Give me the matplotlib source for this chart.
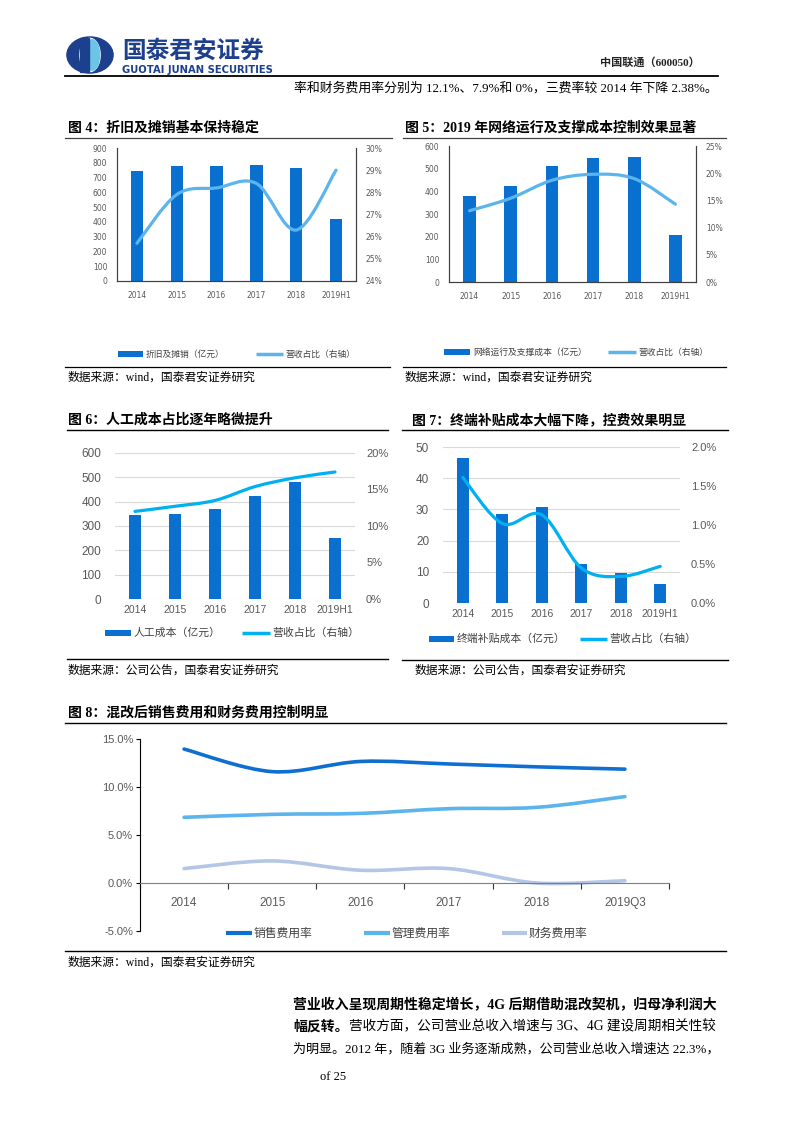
import numpy as np
import matplotlib
matplotlib.use('Agg')
import matplotlib.pyplot as plt
from matplotlib.path import Path
from matplotlib.patches import PathPatch, Rectangle, Ellipse
from matplotlib.lines import Line2D
import matplotlib.ticker as mtick

plt.rcParams['font.family'] = ['Liberation Serif', 'Noto Sans CJK SC']

# ---- data ----
years = ['2014', '2015', '2016', '2017', '2018', '2019H1']
years8 = ['2014', '2015', '2016', '2017', '2018', '2019Q3']

# 图4 折旧及摊销
da_amount = [745, 775, 778, 782, 765, 422]
da_ratio = [25.7, 27.9, 28.2, 28.4, 26.3, 29.0]

# 图5 网络运行及支撑成本
net_amount = [378, 422, 510, 545, 550, 207]
net_ratio = [13.1, 15.4, 18.7, 19.8, 19.0, 14.3]

# 图6 人工成本
labor_amount = [345, 350, 368, 425, 480, 250]
labor_ratio = [12.0, 12.7, 13.5, 15.4, 16.6, 17.4]

# 图7 终端补贴成本
subsidy_amount = [46.5, 28.5, 30.7, 12.5, 9.5, 6.0]
subsidy_ratio = [1.61, 1.02, 1.13, 0.45, 0.34, 0.47]

# 图8 三费率
sales_rate = [13.95, 11.6, 12.66, 12.4, 12.1, 11.86]
admin_rate = [6.84, 7.15, 7.25, 7.74, 7.88, 9.0]
fin_rate = [1.5, 2.3, 1.33, 1.5, 0.0, 0.24]

BAR = '#0a70d0'
LINE_A = '#5bb5ec'
LINE_B = '#00b0f0'
TICK = '#595959'
CJK = ['Noto Sans CJK SC']

W, H = 793, 1122
fig = plt.figure(figsize=(W / 100, H / 100), dpi=100)


def rect(x0, y0, x1, y1):
    return [x0 / W, 1 - y1 / H, (x1 - x0) / W, (y1 - y0) / H]


def ftext(x, y, s, **kw):
    kw.setdefault('va', 'center')
    fig.text(x / W, 1 - y / H, s, **kw)


def hline(x0, x1, y, lw=1.0, color='black'):
    fig.add_artist(Line2D([x0 / W, x1 / W], [1 - y / H] * 2, lw=lw, color=color))


def smooth(ax, x, y, color, lw):
    # excel style smoothed line (bezier through the points)
    p = np.column_stack([x, y]).astype(float)
    n = len(p)
    verts = [p[0]]
    codes = [Path.MOVETO]
    for i in range(n - 1):
        p0, p1 = p[max(i - 1, 0)], p[i]
        p2, p3 = p[i + 1], p[min(i + 2, n - 1)]
        verts += [p1 + (p2 - p0) / 6, p2 - (p3 - p1) / 6, p2]
        codes += [Path.CURVE4] * 3
    ax.add_patch(PathPatch(Path(verts, codes), fill=False, ec=color, lw=lw,
                           capstyle='round', joinstyle='round'))


def legend_bar(x0, x1, y, label, size, color=BAR):
    fig.add_artist(Rectangle((x0 / W, 1 - (y + 3) / H), (x1 - x0) / W, 6 / H,
                             transform=fig.transFigure, color=color, lw=0))
    ftext(x1 + 3, y, label, fontsize=size, family=CJK, color='#404040')


def legend_line(x0, x1, y, label, size, color, lw=2.5):
    fig.add_artist(Line2D([x0 / W, x1 / W], [1 - y / H] * 2, lw=lw, color=color,
                          solid_capstyle='butt'))
    ftext(x1 + 2, y, label, fontsize=size, family=CJK, color='#404040')


# ---- header ----
lax = fig.add_axes(rect(66, 36, 114, 74))
lax.set_xlim(-1.3, 1.3)
lax.set_ylim(-1, 1)
lax.axis('off')
lax.add_patch(Ellipse((0, 0), 2.5, 1.9, color='#1c3f8e'))
lax.add_patch(Ellipse((0, 0), 1.1, 1.75, color='white'))
lax.add_patch(Ellipse((0.12, 0), 0.8, 1.6, color='#6cc4e6'))
lax.add_patch(Rectangle((-0.55, -0.9), 0.48, 1.8, color='#1c3f8e'))
ftext(122, 58, '国泰君安证券', fontsize=17, family=CJK, weight='bold', color='#1c3f8e',
      va='baseline')
ftext(122, 73, 'GUOTAI JUNAN SECURITIES', fontsize=7.2, family=['DejaVu Sans'],
      weight='bold', color='#1c3f8e', va='baseline')
ftext(700, 62, '中国联通（600050）', fontsize=8, weight='bold', ha='right', color='#222222')
hline(65, 718, 76, lw=1.3)
ftext(718, 88, '率和财务费用率分别为 12.1%、7.9%和 0%，三费率较 2014 年下降 2.38%。',
      fontsize=9.3, ha='right')

# ---- 图4 ----
ftext(68, 128, '图 4：折旧及摊销基本保持稳定', fontsize=10, weight='bold')
hline(65, 392, 138, lw=0.9, color='#404040')
x = np.arange(len(years))
ax = fig.add_axes(rect(117, 148, 356, 281))
ax.bar(x, da_amount, width=0.31, color=BAR)
ax.set_xlim(-0.5, 5.5)
ax.set_ylim(0, 900)
ax.set_yticks(range(0, 901, 100))
ax.set_xticks(x, years)
ax2 = ax.twinx()
ax2.set_ylim(24, 30)
ax2.set_yticks(range(24, 31))
ax2.yaxis.set_major_formatter(mtick.FormatStrFormatter('%d%%'))
smooth(ax2, x, da_ratio, LINE_A, 2.3)
for a in (ax, ax2):
    a.spines['top'].set_visible(False)
    for s in ('left', 'right', 'bottom'):
        a.spines[s].set_color('#404040')
    a.tick_params(length=0, labelsize=5.5, labelcolor=TICK, pad=7)
    for lab in a.get_xticklabels() + a.get_yticklabels():
        lab.set_family('DejaVu Sans')
legend_bar(118, 143, 354, '折旧及摊销（亿元）', 6.3)
legend_line(256, 283, 354, '营收占比（右轴）', 6.3, LINE_A)
hline(65, 390, 367, lw=0.9)
ftext(68, 378, '数据来源：wind，国泰君安证券研究', fontsize=8.5)

# ---- 图5 ----
ftext(405, 128, '图 5：2019 年网络运行及支撑成本控制效果显著', fontsize=10, weight='bold')
hline(403, 726, 138, lw=0.9, color='#404040')
ax = fig.add_axes(rect(449, 146, 696, 282))
ax.bar(x, net_amount, width=0.31, color=BAR)
ax.set_xlim(-0.5, 5.5)
ax.set_ylim(0, 600)
ax.set_yticks(range(0, 601, 100))
ax.set_xticks(x, years)
ax2 = ax.twinx()
ax2.set_ylim(0, 25)
ax2.set_yticks(range(0, 26, 5))
ax2.yaxis.set_major_formatter(mtick.FormatStrFormatter('%d%%'))
smooth(ax2, x, net_ratio, LINE_A, 2.3)
for a in (ax, ax2):
    a.spines['top'].set_visible(False)
    for s in ('left', 'right', 'bottom'):
        a.spines[s].set_color('#404040')
    a.tick_params(length=0, labelsize=5.5, labelcolor=TICK, pad=7)
    for lab in a.get_xticklabels() + a.get_yticklabels():
        lab.set_family('DejaVu Sans')
legend_bar(444, 470, 352, '网络运行及支撑成本（亿元）', 6.3)
legend_line(608, 636, 352, '营收占比（右轴）', 6.3, LINE_A)
hline(403, 726, 367, lw=0.9)
ftext(405, 378, '数据来源：wind，国泰君安证券研究', fontsize=8.5)


def grid_chart(rc, amounts, ratios, ymax, ystep, rmax, rstep, rfmt):
    ax = fig.add_axes(rect(*rc))
    ax.bar(x, amounts, width=0.31, color=BAR, zorder=2)
    ax.set_xlim(-0.5, 5.5)
    ax.set_ylim(0, ymax)
    ax.set_yticks(np.arange(0, ymax + 0.01, ystep))
    ax.set_xticks(x, years)
    ax.yaxis.grid(True, color='#d9d9d9', lw=0.8)
    ax.set_axisbelow(True)
    ax2 = ax.twinx()
    ax2.set_ylim(0, rmax)
    ax2.set_yticks(np.arange(0, rmax + 0.001, rstep))
    ax2.yaxis.set_major_formatter(mtick.FormatStrFormatter(rfmt))
    smooth(ax2, x, ratios, LINE_B, 2.3)
    for a in (ax, ax2):
        for s in a.spines.values():
            s.set_visible(False)
        a.tick_params(length=0, labelcolor=TICK)
    ax.tick_params(axis='y', labelsize=8.5, pad=10)
    ax.tick_params(axis='x', labelsize=7.5, pad=4)
    ax2.tick_params(axis='y', labelsize=8, pad=8)
    for lab in ax.get_xticklabels() + ax.get_yticklabels() + ax2.get_yticklabels():
        lab.set_family('Liberation Sans')
    return ax


# ---- 图6 ----
ftext(68, 420, '图 6：人工成本占比逐年略微提升', fontsize=10, weight='bold')
hline(67, 388, 430, lw=1.0)
grid_chart((115, 453, 355, 599), labor_amount, labor_ratio, 600, 100, 20, 5, '%d%%')
legend_bar(105, 131, 633, '人工成本（亿元）', 7.8)
legend_line(242, 270, 633, '营收占比（右轴）', 7.8, LINE_B)
hline(67, 388, 659, lw=1.0)
ftext(68, 671, '数据来源：公司公告，国泰君安证券研究', fontsize=8.5)

# ---- 图7 ----
ftext(412, 420, '图 7：终端补贴成本大幅下降，控费效果明显', fontsize=10, weight='bold')
hline(402, 728, 430, lw=1.0)
grid_chart((443, 447, 680, 603), subsidy_amount, subsidy_ratio, 50, 10, 2.0, 0.5, '%.1f%%')
legend_bar(429, 454, 639, '终端补贴成本（亿元）', 7.8)
legend_line(580, 607, 639, '营收占比（右轴）', 7.8, LINE_B)
hline(402, 728, 660, lw=1.0)
ftext(415, 671, '数据来源：公司公告，国泰君安证券研究', fontsize=8.5)

# ---- 图8 ----
ftext(68, 713, '图 8：混改后销售费用和财务费用控制明显', fontsize=10, weight='bold')
hline(65, 726, 723, lw=1.0)
ax = fig.add_axes(rect(140, 739, 669, 931))
x8 = np.arange(len(years8))
ax.set_xlim(-0.5, 5.5)
ax.set_ylim(-5, 15)
smooth(ax, x8, sales_rate, '#0f6fd0', 2.6)
smooth(ax, x8, admin_rate, '#5cb4ec', 2.6)
smooth(ax, x8, fin_rate, '#b3c6e6', 2.6)
ax.set_yticks([-5, 0, 5, 10, 15])
ax.yaxis.set_major_formatter(mtick.FormatStrFormatter('%.1f%%'))
ax.set_xticks(np.arange(-0.5, 6, 1))
ax.set_xticklabels([])
ax.set_xticks(x8, years8, minor=True)
ax.spines['top'].set_visible(False)
ax.spines['right'].set_visible(False)
ax.spines['bottom'].set_position(('data', 0))
ax.spines['bottom'].set_color('#7f7f7f')
ax.spines['left'].set_color('black')
ax.tick_params(axis='x', which='major', length=4, direction='out', color='#333333')
ax.tick_params(axis='x', which='minor', length=0, labelsize=8.5, labelcolor=TICK, pad=10)
ax.tick_params(axis='y', length=3, direction='out', labelsize=8, labelcolor=TICK, pad=2)
for lab in ax.get_xticklabels(minor=True) + ax.get_yticklabels():
    lab.set_family('Liberation Sans')
legend_line(226, 252, 933, '销售费用率', 8.5, '#0f6fd0', lw=3)
legend_line(364, 390, 933, '管理费用率', 8.5, '#5cb4ec', lw=3)
legend_line(502, 527, 933, '财务费用率', 8.5, '#b3c6e6', lw=3)
hline(65, 726, 951, lw=1.0)
ftext(68, 963, '数据来源：wind，国泰君安证券研究', fontsize=8.5)

# ---- body text ----
ftext(293, 1005, '营业收入呈现周期性稳定增长，4G 后期借助混改契机，归母净利润大',
      fontsize=10, weight='bold')
ftext(293, 1027, '幅反转。', fontsize=10, weight='bold')
ftext(349, 1027, '营收方面，公司营业总收入增速与 3G、4G 建设周期相关性较', fontsize=9.8)
ftext(293, 1049, '为明显。2012 年，随着 3G 业务逐渐成熟，公司营业总收入增速达 22.3%，',
      fontsize=9.4)
ftext(320, 1077, 'of 25', fontsize=9)

fig.savefig('out.png', dpi=100)
